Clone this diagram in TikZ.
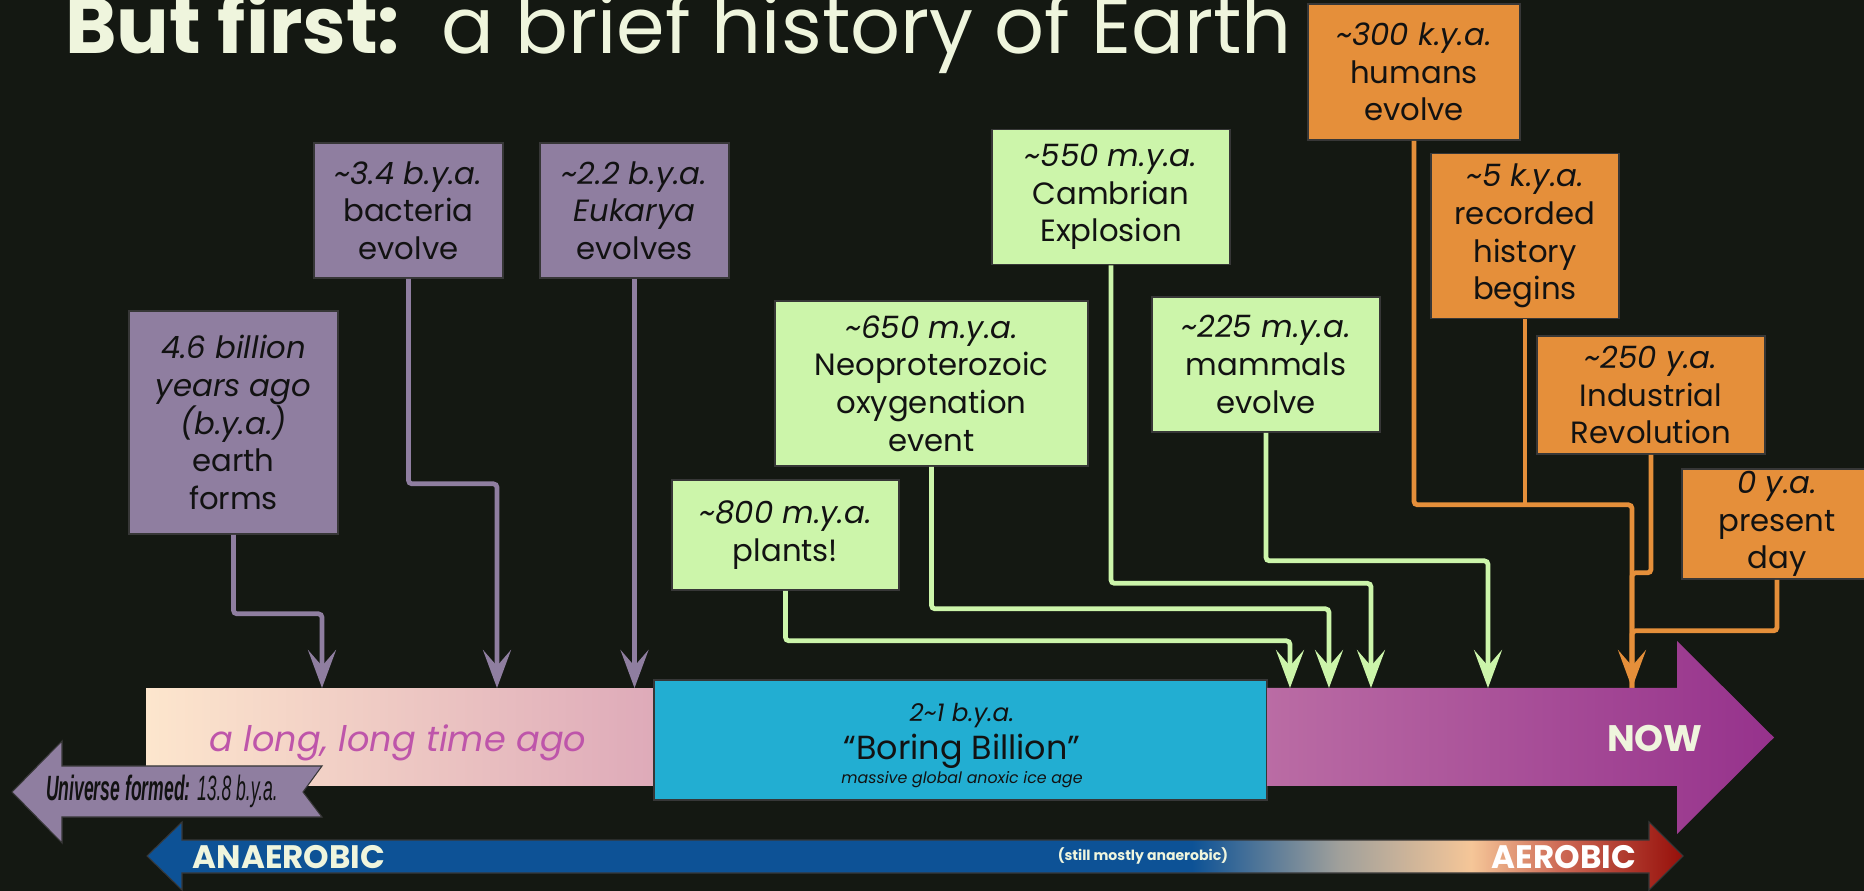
\documentclass[tikz,border=0pt]{standalone}
\usepackage{fontspec}
\usepackage{graphicx}
\setmainfont{Poppins}
\newfontfamily\narrowfont{Liberation Sans}
\usetikzlibrary{arrows.meta}

\definecolor{bg}{RGB}{20,24,18}
\definecolor{cream}{RGB}{239,245,221}
\definecolor{ink}{RGB}{18,18,18}
\definecolor{edge}{RGB}{55,55,55}
\definecolor{lilac}{RGB}{143,126,160}
\definecolor{leaf}{RGB}{204,245,170}
\definecolor{amber}{RGB}{229,143,58}
\definecolor{sky}{RGB}{34,174,210}
\definecolor{peachL}{RGB}{253,230,205}
\definecolor{pinkR}{RGB}{222,170,185}
\definecolor{dusk}{RGB}{190,85,170}
\definecolor{nowL}{RGB}{186,108,164}
\definecolor{nowR}{RGB}{150,50,140}
\definecolor{anaer}{RGB}{13,82,150}
\definecolor{midgray}{RGB}{160,160,155}
\definecolor{peach}{RGB}{245,198,152}
\definecolor{coral}{RGB}{205,105,85}
\definecolor{aer}{RGB}{150,15,10}

\pgfdeclarehorizontalshading{oxygen}{100bp}{color(0bp)=(anaer); color(59bp)=(anaer);
  color(63.8bp)=(midgray); color(68.1bp)=(peach); color(71bp)=(coral);
  color(75bp)=(aer); color(100bp)=(aer)}

\tikzset{
  evbox/.style={draw=edge, line width=1pt, text=ink, align=center, inner sep=0pt,
    font=\fontsize{17.5}{21.4}\selectfont},
  purplebox/.style={evbox, fill=lilac},
  greenbox/.style={evbox, fill=leaf},
  orangebox/.style={evbox, fill=amber},
  link/.style={line width=0.095cm, rounded corners=2pt},
  pointy/.style={-{Stealth[length=0.76cm, width=0.56cm, inset=0.32cm]}},
}

\begin{document}
\begin{tikzpicture}[x=0.02cm, y=-0.02cm]
\useasboundingbox (0,0) rectangle (1864,891);
\clip (0,0) rectangle (1864,891);
\fill[bg] (0,0) rectangle (1864,891);

% title
\node[anchor=base west, inner sep=0pt, text=cream, font=\fontsize{44.5}{44.5}\selectfont]
  (title) at (65,54) {\textbf{But first:}\ \ a brief history of Earth};

% billions of years
\node[purplebox, minimum width=4.18cm, minimum height=4.46cm] (earth) at (233.5,422.5)
  {\textit{4.6 billion}\\\textit{years ago}\\\textit{(b.y.a.)}\\earth\\forms};
\node[purplebox, minimum width=3.78cm, minimum height=2.7cm] (bact) at (408.5,210.5)
  {\textit{\textasciitilde3.4 b.y.a.}\\bacteria\\evolve};
\node[purplebox, minimum width=3.78cm, minimum height=2.7cm] (euk) at (634.5,210.5)
  {\textit{\textasciitilde2.2 b.y.a.}\\\textit{Eukarya}\\evolves};

% millions of years
\node[greenbox, minimum width=4.54cm, minimum height=2.2cm] (plants) at (785.5,535)
  {\textit{\textasciitilde800 m.y.a.}\\plants!};
\node[greenbox, minimum width=6.26cm, minimum height=3.3cm] (neo) at (931.5,383.5)
  {\textit{\textasciitilde650 m.y.a.}\\Neoproterozoic\\oxygenation\\event};
\node[greenbox, minimum width=4.76cm, minimum height=2.7cm] (camb) at (1111,197)
  {\textit{\textasciitilde550 m.y.a.}\\Cambrian\\Explosion};
\node[greenbox, minimum width=4.56cm, minimum height=2.7cm] (mamm) at (1266,364.5)
  {\textit{\textasciitilde225 m.y.a.}\\mammals\\evolve};

% recent
\node[orangebox, minimum width=4.24cm, minimum height=2.72cm] (hum) at (1414,72)
  {\textit{\textasciitilde300 k.y.a.}\\humans\\evolve};
\node[orangebox, minimum width=3.76cm, minimum height=3.3cm] (rec) at (1525,236)
  {\textit{\textasciitilde5 k.y.a.}\\recorded\\history\\begins};
\node[orangebox, minimum width=4.56cm, minimum height=2.36cm] (ind) at (1651,395)
  {\textit{\textasciitilde250 y.a.}\\Industrial\\Revolution};
\node[orangebox, minimum width=3.8cm, minimum height=2.2cm] (pres) at (1777,524)
  {\textit{0 y.a.}\\present\\day};

% where the links land
\coordinate (tEarth) at (322,688);
\coordinate (tBact) at (497,688);
\coordinate (tEuk) at (634.5,688);
\coordinate (tPlants) at (1290,688);
\coordinate (tNeo) at (1329,688);
\coordinate (tCamb) at (1371,688);
\coordinate (tMamm) at (1488,688);
\coordinate (tNow) at (1632,688);

\draw[link, pointy, lilac] (earth.south) -- ++(0,79) -| (tEarth);
\draw[link, pointy, lilac] (bact.south) -- ++(0,205) -| (tBact);
\draw[link, pointy, lilac] (euk.south) -- (tEuk);

\draw[link, pointy, leaf] (plants.south) -- ++(0,50) -| (tPlants);
\draw[link, pointy, leaf] (neo.south) -- ++(0,142) -| (tNeo);
\draw[link, pointy, leaf] (camb.south) -- ++(0,318) -| (tCamb);
\draw[link, pointy, leaf] (mamm.south) -- ++(0,128) -| (tMamm);

\draw[link, amber] (rec.south) -- ++(0,186);
\draw[link, amber] (ind.south) -- ++(0,118) -| (tNow);
\draw[link, amber] (pres.south) -- ++(0,51) -| (tNow);
\draw[link, pointy, amber] (hum.south) -- ++(0,364) -| (tNow);

% timeline
\node[inner sep=0pt, minimum width=10.18cm, minimum height=1.96cm,
  left color=peachL, right color=pinkR] (past) at (400.5,737) {};
\node[text=dusk, font=\fontsize{20}{20}\selectfont\itshape] (pastlabel) at (398,743)
  {a long, long time ago};
\node[draw=edge, line width=1pt, fill=sky, inner sep=0pt,
  minimum width=12.26cm, minimum height=2.4cm] (boring) at (960.5,740) {};
\node[text=ink, font=\fontsize{14}{14}\selectfont\itshape] (bby) at (962,716) {2\textasciitilde1 b.y.a.};
\node[text=ink, font=\fontsize{19}{19}\selectfont] (bname) at (962,751) {“Boring Billion”};
\node[text=ink, font=\fontsize{9}{9}\selectfont\itshape] (bnote) at (962,780)
  {massive global anoxic ice age};

\shade[left color=nowL, right color=nowR] (1267,688) -- (1677,688) -- (1677,641)
  -- (1774,737.5) -- (1677,834) -- (1677,786) -- (1267,786) -- cycle;
\node[text=cream, font=\fontsize{21}{21}\selectfont\bfseries] (now) at (1655,738) {NOW};

\draw[draw=edge, line width=0.6pt, fill=lilac] (12,792) -- (62,741) -- (62,766) -- (322,766)
  -- (303,792) -- (322,817) -- (62,817) -- (62,843) -- cycle;
\node[text=ink] (univ) at (162,791) {\scalebox{0.5}[1]{\narrowfont\fontsize{20}{20}\selectfont
  \bfseries\itshape Universe formed: \mdseries 13.8 b.y.a.}};

\draw[draw=edge, line width=0.6pt, shading=oxygen] (147,856) -- (182,822) -- (182,840)
  -- (1649,840) -- (1649,822) -- (1683,856) -- (1649,890) -- (1649,873) -- (182,873)
  -- (182,890) -- cycle;
\node[text=cream, font=\fontsize{18.5}{18.5}\selectfont\bfseries] (anaero) at (289,857) {ANAEROBIC};
\node[text=cream, font=\fontsize{8}{8}\selectfont\bfseries] (still) at (1143,856) {(still mostly anaerobic)};
\node[text=white, font=\fontsize{18.5}{18.5}\selectfont\bfseries] (aero) at (1564,857) {AEROBIC};
\end{tikzpicture}
\end{document}
